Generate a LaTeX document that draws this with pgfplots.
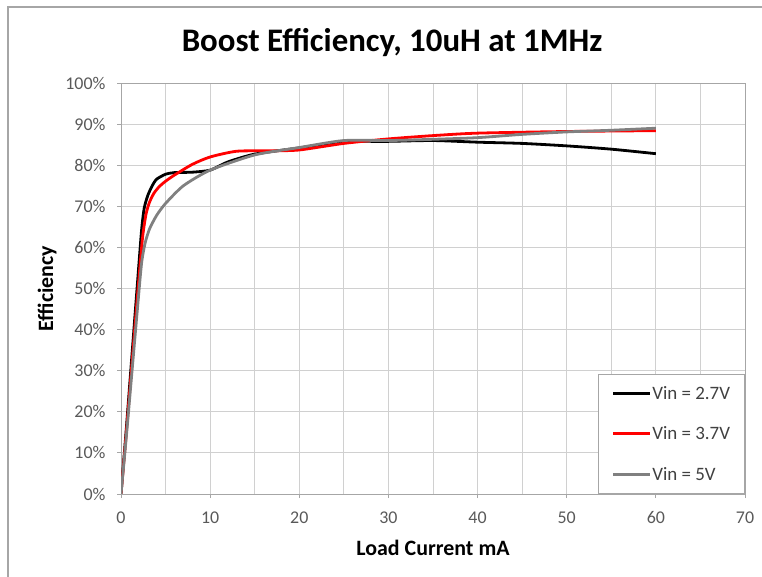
\documentclass[border=0pt]{standalone}
\usepackage{pgfplots}
\pgfplotsset{compat=1.18}
\usepackage{fontspec}
\setmainfont{Carlito}

\definecolor{ticktext}{HTML}{595959}
\definecolor{legtext}{HTML}{404040}
\definecolor{gridgray}{HTML}{D0D0D0}
\definecolor{axisgray}{HTML}{A6A6A6}
\definecolor{vin5}{HTML}{808080}

\begin{document}
\begin{tikzpicture}
\path[use as bounding box] (0,0) rectangle (762bp,577bp);
\draw[axisgray, line width=1.2bp] (8bp,0) -- (8bp,570bp) -- (762bp,570bp);

\node[anchor=base, font=\bfseries\fontsize{33}{38}\selectfont] at (392bp,525bp) {Boost Efficiency, 10uH at 1MHz};
\node[anchor=base, rotate=90, font=\bfseries\fontsize{22}{26}\selectfont] at (53bp,288.5bp) {Efficiency};

\begin{axis}[
    at={(121bp,83bp)}, anchor=south west,
    scale only axis,
    width=624bp, height=411bp,
    xmin=0, xmax=70,
    ymin=0, ymax=100,
    xtick={0,10,...,70},
    minor xtick={5,15,...,65},
    ytick={0,10,...,100},
    yticklabel={\pgfmathprintnumber{\tick}\%},
    xmajorgrids=true, xminorgrids=true, ymajorgrids=true,
    grid style={gridgray, line width=0.9bp},
    minor grid style={gridgray, line width=0.9bp},
    axis line style={axisgray, line width=0.9bp},
    tick style={axisgray, line width=0.9bp},
    tick align=outside,
    major tick length=4bp,
    minor tick length=0pt,
    xtick pos=bottom, ytick pos=left,
    /pgf/number format/assume math mode=true,
    ticklabel style={font=\fontsize{18}{21}\selectfont, text=ticktext},
    xticklabel style={yshift=-10bp},
    yticklabel style={xshift=-8bp},
    xlabel={Load Current mA},
    xlabel style={at={(axis description cs:0.5,0)}, anchor=base, yshift=-61bp, font=\bfseries\fontsize{22}{26}\selectfont},
    legend cell align=left,
    legend image code/.code={\draw[#1] (0bp,0bp) -- (37bp,0bp);},
    legend style={at={(axis description cs:1,0)}, anchor=south east,
        draw=axisgray, line width=0.9bp, fill=white,
        font=\fontsize{19}{22}\selectfont, text=legtext,
        row sep=22bp, inner xsep=14bp, inner ysep=10bp,
        nodes={inner xsep=0.5bp}},
    every axis plot/.append style={line width=2.8bp, smooth, tension=0.4},
]
\addplot[black] coordinates {
    (0,0) (0.6,16) (1.2,33) (1.8,50) (2.3,64) (2.6,69.5) (3,72.6) (3.5,75)
    (4,76.6) (5,77.8) (6,78.2) (8,78.3) (10,78.8)
    (12,80.8) (15,82.7) (20,84.2) (25,85.7) (30,85.8) (35,86) (40,85.6)
    (45,85.3) (50,84.7) (55,83.9) (60,82.8)
};
\addlegendentry{Vin = 2.7V}
\addplot[red] coordinates {
    (0,0) (0.6,15) (1.2,31) (1.8,47) (2.4,62) (2.8,68) (3.2,71) (3.7,73.2)
    (4.3,74.8) (5,76.1) (6,77.6) (8,80.2) (10,82)
    (13,83.4) (17,83.5) (20,83.7) (25,85.3) (30,86.4) (35,87.2) (40,87.8)
    (50,88.2) (60,88.4)
};
\addlegendentry{Vin = 3.7V}
\addplot[vin5] coordinates {
    (0,0) (0.6,14) (1.2,29) (1.8,44) (2.3,56) (2.7,61) (3.2,64.5) (4,67.8)
    (5,70.7) (7,75) (10,78.8) (15,82.5)
    (20,84.3) (25,86) (30,86) (35,86.3) (40,86.7) (45,87.5) (50,88.1)
    (55,88.5) (60,89)
};
\addlegendentry{Vin = 5V}
\end{axis}
\end{tikzpicture}
\end{document}
